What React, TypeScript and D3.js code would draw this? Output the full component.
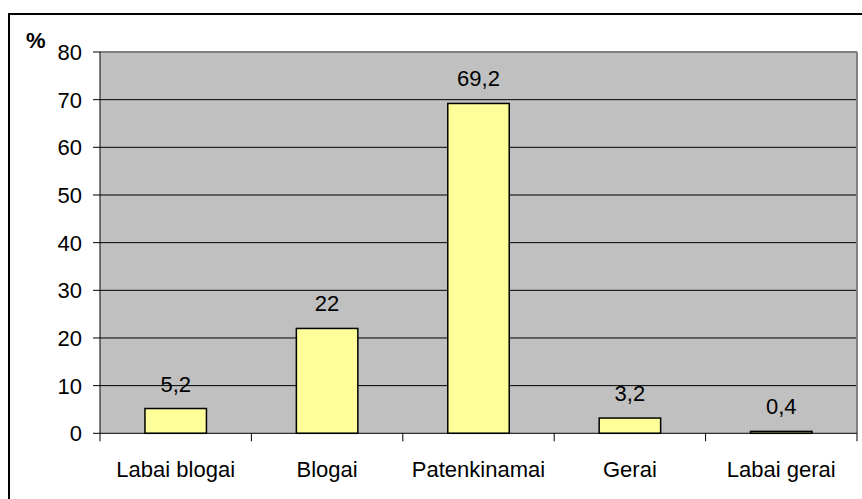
import React from "react";
import * as d3 from "d3";

const categories = ["Labai blogai", "Blogai", "Patenkinamai", "Gerai", "Labai gerai"];
const values = [5.2, 22, 69.2, 3.2, 0.4];
const valueLabels = ["5,2", "22", "69,2", "3,2", "0,4"];
const yTicks = [0, 10, 20, 30, 40, 50, 60, 70, 80];

const W = 862;
const H = 499;
const left = 100;
const right = 857;
const top = 52;
const bottom = 433.3;
const font = "'Liberation Sans', Arial, sans-serif";
const fs = 22;

export default function App() {
  const y = d3.scaleLinear().domain([0, 80]).range([bottom, top]);
  const x = d3
    .scaleBand<string>()
    .domain(categories)
    .range([left, right])
    .paddingInner(0.594)
    .paddingOuter(0.297);
  const step = x.step();
  const boundaries = d3.range(categories.length + 1).map((i) => left + i * step);

  return (
    <svg
      width={W}
      height={H}
      style={{ position: "absolute", left: 0, top: 0, background: "#fff" }}
      fontFamily={font}
    >
      <rect x={9} y={14} width={900} height={600} fill="#fff" stroke="#000" strokeWidth={2} />
      <rect x={left} y={top} width={right - left} height={bottom - top} fill="#C0C0C0" />
      {yTicks.slice(1, -1).map((t) => (
        <line key={"g" + t} x1={left} x2={right} y1={y(t)} y2={y(t)} stroke="#000" strokeWidth={1} />
      ))}
      <line x1={left} x2={right} y1={top} y2={top} stroke="#808080" strokeWidth={2} />
      <line x1={right} x2={right} y1={top} y2={bottom} stroke="#808080" strokeWidth={2} />
      {categories.map((c, i) => {
        const bx = x(c)!;
        const by = y(values[i]);
        return (
          <g key={c}>
            <rect
              x={bx}
              y={by}
              width={x.bandwidth()}
              height={bottom - by}
              fill="#FFFF99"
              stroke="#000"
              strokeWidth={1.5}
            />
            <text x={bx + x.bandwidth() / 2} y={by - 17} textAnchor="middle" fontSize={fs} fill="#000">
              {valueLabels[i]}
            </text>
            <text x={bx + x.bandwidth() / 2} y={477} textAnchor="middle" fontSize={fs} fill="#000">
              {c}
            </text>
          </g>
        );
      })}
      <line x1={left} x2={left} y1={top} y2={bottom} stroke="#000" strokeWidth={1} />
      <line x1={left} x2={right} y1={bottom} y2={bottom} stroke="#000" strokeWidth={1} />
      {yTicks.map((t) => (
        <g key={"t" + t}>
          <line x1={left - 7} x2={left} y1={y(t)} y2={y(t)} stroke="#000" strokeWidth={1} />
          <text x={82} y={y(t) + 8} textAnchor="end" fontSize={fs} fill="#000">
            {t}
          </text>
        </g>
      ))}
      {boundaries.map((b, i) => (
        <line key={"b" + i} x1={b} x2={b} y1={bottom} y2={bottom + 8} stroke="#000" strokeWidth={1} />
      ))}
      <text x={26} y={48} fontSize={fs} fontWeight="bold" fill="#000">
        %
      </text>
    </svg>
  );
}
